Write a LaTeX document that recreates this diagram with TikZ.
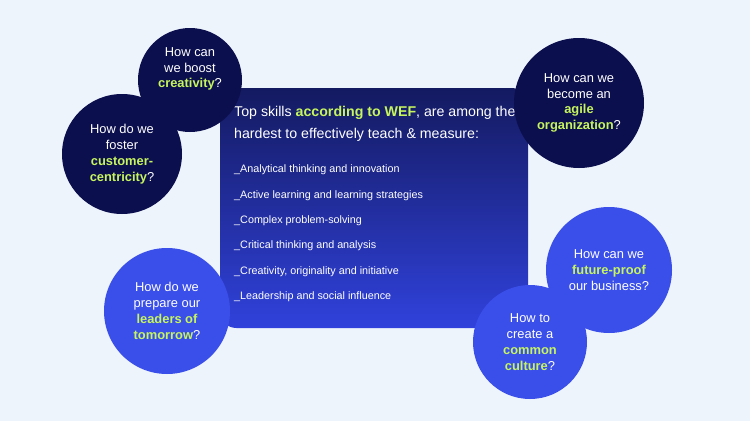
\documentclass[tikz,border=0pt]{standalone}
\usepackage{fontspec}
\setmainfont{Liberation Sans}
\usepackage{tikz}
\definecolor{bgcol}{HTML}{EEF4FC}
\definecolor{navy}{HTML}{0C0F4E}
\definecolor{brightblue}{HTML}{3A4FEA}
\definecolor{lime}{HTML}{C6F55E}
\definecolor{boxtop}{HTML}{141A60}
\definecolor{boxbot}{HTML}{3042DC}
\newcommand{\hl}[1]{\textcolor{lime}{\textbf{#1}}}
\tikzset{
  bubble/.style={circle,text=white,align=center,font=\fontsize{11}{13.5}\selectfont,inner sep=0pt},
  skill/.style={anchor=west,text=white,font=\fontsize{9.2}{11}\selectfont,inner sep=0pt}
}
\begin{document}
\begin{tikzpicture}[x=0.03cm,y=-0.03cm]
\fill[bgcol] (0,0) rectangle (750,421);
\path[rounded corners=14pt,top color=boxtop,bottom color=boxbot] (220,88) rectangle (528,328);
\node[anchor=north west,text=white,align=left,inner sep=0pt,font=\fontsize{12.1}{18.5}\selectfont] (title) at (234,106)
  {Top skills \hl{according to WEF}, are among the\\hardest to effectively teach \& measure:};
\foreach \t [count=\i] in {Analytical thinking and innovation,Active learning and learning strategies,Complex problem-solving,Critical thinking and analysis,{Creativity, originality and initiative},Leadership and social influence}
  \node[skill] (s\i) at (234,{170+25.4*(\i-1)}) {\_\t};
% dark bubbles
\fill[navy] (190,80) circle (52);
\node[bubble] (boost) at (190,69) {How can\\we boost\\\hl{creativity}?};
\fill[navy] (122,154) circle (60);
\node[bubble] (foster) at (122,154) {How do we\\foster\\\hl{customer-}\\\hl{centricity}?};
\fill[navy] (579,103) circle (65);
\node[bubble] (agile) at (579,103) {How can we\\become an\\\hl{agile}\\\hl{organization}?};
% bright bubbles
\fill[brightblue] (167,311) circle (63);
\node[bubble] (leaders) at (167,311) {How do we\\prepare our\\\hl{leaders of}\\\hl{tomorrow}?};
\fill[brightblue] (609,270) circle (63);
\node[bubble] (future) at (609,270) {How can we\\\hl{future-proof}\\our business?};
\fill[brightblue] (530,342) circle (57);
\node[bubble] (culture) at (530,342) {How to\\create a\\\hl{common}\\\hl{culture}?};
\end{tikzpicture}
\end{document}
